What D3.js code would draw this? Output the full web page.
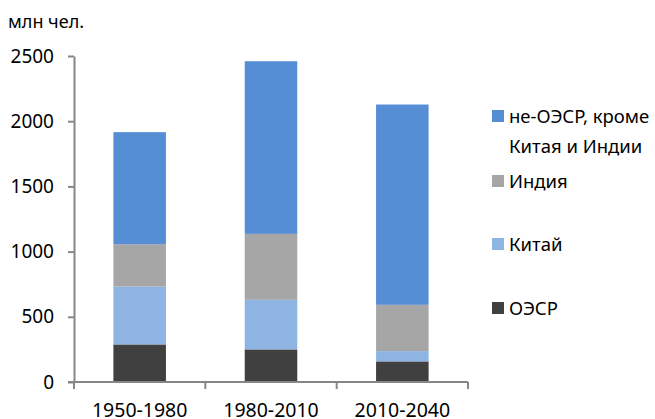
<!DOCTYPE html>
<meta charset="utf-8">
<title>Население</title>
<style>

body {
  margin: 0;
  background: #fff;
}

svg {
  font-family: "Noto Sans", sans-serif;
  fill: #000;
}

.axis path,
.axis line {
  stroke: #868686;
  stroke-width: 2px;
}

</style>
<body>
<script src="https://d3js.org/d3.v7.min.js"></script>
<script>

var categories = ["1950-1980", "1980-2010", "2010-2040"];

// снизу вверх
var seriesNames = ["ОЭСР", "Китай", "Индия", "не-ОЭСР, кроме Китая и Индии"];
var oecd     = [288, 250, 158];
var china    = [444, 380, 79];
var india    = [325, 506, 355];
var nonOecd  = [859, 1324, 1536];

var yTicks = [0, 500, 1000, 1500, 2000, 2500];
var colors = ["#404040", "#8eb4e3", "#a6a6a6", "#558ed5"];

var width = 655,
    height = 419;

var rows = categories.map(function(c, i) {
  return {cat: c, "ОЭСР": oecd[i], "Китай": china[i], "Индия": india[i],
    "не-ОЭСР, кроме Китая и Индии": nonOecd[i]};
});

var stack = d3.stack().keys(seriesNames)(rows);

var x = d3.scaleBand()
    .domain(categories)
    .range([74, 468])
    .paddingInner(0.6)
    .paddingOuter(0.3);

var y = d3.scaleLinear()
    .domain([0, 2500])
    .range([382, 56]);

var color = d3.scaleOrdinal()
    .domain(seriesNames)
    .range(colors);

var svg = d3.select("body").append("svg")
    .attr("width", width)
    .attr("height", height);

svg.append("text")
    .attr("x", 8)
    .attr("y", 28)
    .style("font-size", "18px")
    .text("млн чел.");

svg.append("g")
  .selectAll("g")
  .data(stack)
  .join("g")
    .attr("fill", function(d) { return color(d.key); })
  .selectAll("rect")
  .data(function(d) { return d; })
  .join("rect")
    .attr("x", function(d) { return x(d.data.cat); })
    .attr("width", x.bandwidth())
    .attr("y", function(d) { return y(d[1]); })
    .attr("height", function(d) { return y(d[0]) - y(d[1]); });

var yAxis = d3.axisLeft(y)
    .tickValues(yTicks)
    .tickFormat(d3.format("d"))
    .tickSize(6)
    .tickPadding(14)
    .tickSizeOuter(0);

var gy = svg.append("g")
    .attr("class", "axis")
    .attr("transform", "translate(74,0)")
    .call(yAxis)
    .attr("font-family", null)
    .attr("font-size", null);

gy.selectAll("text")
    .style("font-size", "19px")
    .attr("fill", "#000");

// ось X: риски на границах категорий
var xAxis = d3.axisBottom(x)
    .tickSize(0)
    .tickPadding(21);

var gx = svg.append("g")
    .attr("class", "axis")
    .attr("transform", "translate(0," + y(0) + ")")
    .call(xAxis)
    .attr("font-family", null)
    .attr("font-size", null);

gx.select(".domain").remove();
gx.selectAll("text")
    .style("font-size", "19.5px")
    .attr("fill", "#000");

var xr = x.range();
gx.append("line")
    .attr("x1", xr[0] - 6)
    .attr("x2", xr[1])
    .attr("stroke", "#868686")
    .attr("stroke-width", 2);

gx.selectAll(".bound")
  .data(d3.range(categories.length + 1))
  .join("line")
    .attr("class", "bound")
    .attr("x1", function(i) { return xr[0] + i * x.step(); })
    .attr("x2", function(i) { return xr[0] + i * x.step(); })
    .attr("y1", 0)
    .attr("y2", 7)
    .attr("stroke", "#868686")
    .attr("stroke-width", 2);

// легенда
var legendItems = [
  {key: seriesNames[3], lines: ["не-ОЭСР, кроме", "Китая и Индии"], y: 110},
  {key: seriesNames[2], lines: ["Индия"], y: 175},
  {key: seriesNames[1], lines: ["Китай"], y: 238},
  {key: seriesNames[0], lines: ["ОЭСР"], y: 302}
];

var legend = svg.append("g")
  .selectAll("g")
  .data(legendItems)
  .join("g")
    .attr("transform", function(d) { return "translate(492," + d.y + ")"; });

legend.append("rect")
    .attr("width", 12)
    .attr("height", 12)
    .attr("fill", function(d) { return color(d.key); });

legend.append("text")
    .style("font-size", "18.5px")
  .selectAll("tspan")
  .data(function(d) { return d.lines; })
  .join("tspan")
    .attr("x", 17)
    .attr("y", function(d, i) { return 12.5 + i * 30; })
    .text(function(d) { return d; });

</script>
</body>
